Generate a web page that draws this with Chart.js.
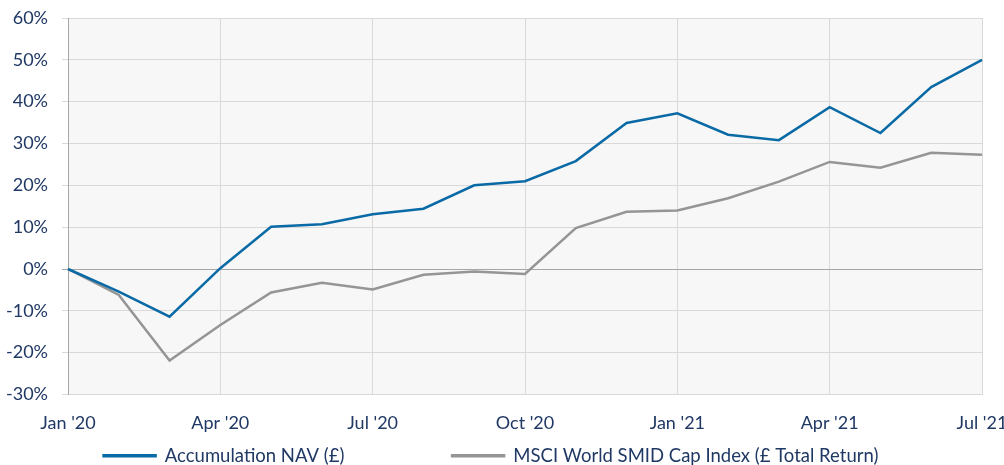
<!DOCTYPE html>
<html>
<head>
<meta charset="utf-8">
<script src="https://cdn.jsdelivr.net/npm/chart.js@4"></script>
<style>
  html, body { margin: 0; padding: 0; background: #fff; }
  #wrap { width: 1004px; height: 465px; }
</style>
</head>
<body>
<div id="wrap"><canvas id="perf"></canvas></div>
<script>
const months = ["Jan '20", "Feb '20", "Mar '20", "Apr '20", "May '20", "Jun '20", "Jul '20", "Aug '20", "Sep '20",
  "Oct '20", "Nov '20", "Dec '20", "Jan '21", "Feb '21", "Mar '21", "Apr '21", "May '21", "Jun '21", "Jul '21"];
const navValues = [0, -5.4, -11.4, 0.2, 10.1, 10.7, 13.1, 14.4, 20.0, 21.0, 25.8, 34.9, 37.2, 32.1, 30.8, 38.7, 32.5, 43.5, 50.0];
const indexValues = [0, -6.2, -21.9, -13.4, -5.6, -3.3, -4.9, -1.4, -0.6, -1.2, 9.8, 13.7, 14.0, 16.9, 20.9, 25.6, 24.2, 27.8, 27.3];
const seriesNames = ['Accumulation NAV (£)', 'MSCI World SMID Cap Index (£ Total Return)'];

const textColor = '#1F3864';
const fontFamily = "Lato, 'Open Sans', sans-serif";

// grey plot background, like the Excel plot area
const plotBg = {
  id: 'plotBg',
  beforeDraw(chart) {
    const { ctx, chartArea: a } = chart;
    ctx.save();
    ctx.fillStyle = '#f7f7f7';
    ctx.fillRect(a.left, a.top, a.right - a.left, a.bottom - a.top);
    ctx.restore();
  }
};

const data = {
  labels: months,
  datasets: [{
    label: seriesNames[0],
    data: navValues,
    borderColor: '#0A6AA6',
    backgroundColor: '#0A6AA6',
    borderWidth: 2.5,
    pointRadius: 0,
    tension: 0
  }, {
    label: seriesNames[1],
    data: indexValues,
    borderColor: '#959595',
    backgroundColor: '#959595',
    borderWidth: 2.5,
    pointRadius: 0,
    tension: 0
  }]
};

const config = {
  type: 'line',
  data: data,
  options: {
    responsive: true,
    maintainAspectRatio: false,
    animation: false,
    layout: { padding: { top: 18, right: 22, left: 0, bottom: -10 } },
    plugins: {
      tooltip: { enabled: false },
      legend: {
        position: 'bottom',
        labels: {
          color: textColor,
          font: { family: fontFamily, size: 18.5 },
          boxWidth: 52,
          boxHeight: 1,
          padding: 6,
          // Excel spaces the two entries out, so pad the first one
          generateLabels: chart => {
            const items = Chart.defaults.plugins.legend.labels.generateLabels(chart);
            items[0].text = items[0].text + '\u2002'.repeat(11);
            return items;
          }
        }
      }
    },
    scales: {
      x: {
        offset: false,
        grid: {
          color: ctx => ctx.index % 3 === 0 ? '#d9d9d9' : 'rgba(0,0,0,0)',
          drawTicks: false
        },
        border: { color: '#d9d9d9' },
        ticks: {
          autoSkip: false,
          maxRotation: 0,
          padding: 18,
          color: textColor,
          font: { family: fontFamily, size: 18 },
          callback: function(value, index) {
            return index % 3 === 0 ? months[index] : '';
          }
        },
        afterFit: scale => { scale.paddingRight = 0; scale.height = 46; }
      },
      y: {
        min: -30,
        max: 60,
        grid: {
          color: ctx => ctx.tick && ctx.tick.value === 0 ? '#a6a6a6' : '#d9d9d9',
          tickLength: 6
        },
        border: { color: '#a6a6a6' },
        ticks: {
          stepSize: 10,
          padding: 14,
          color: textColor,
          font: { family: fontFamily, size: 18 },
          callback: v => v + '%'
        },
        afterFit: scale => { scale.width = 68; scale.paddingTop = 0; scale.paddingBottom = 0; }
      }
    }
  },
  plugins: [plotBg]
};

new Chart(document.getElementById('perf'), config);
</script>
</body>
</html>
